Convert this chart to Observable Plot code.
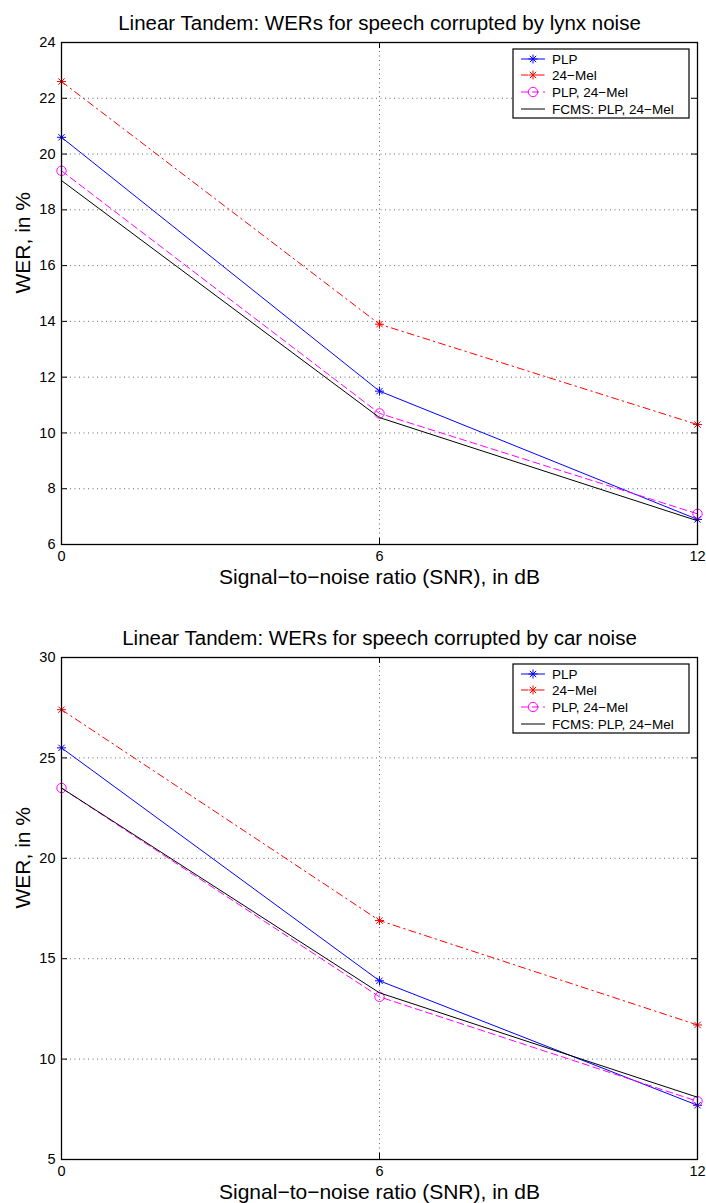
<!DOCTYPE html>
<html><head><meta charset="utf-8">
<script src="https://cdn.jsdelivr.net/npm/d3@7"></script>
<script src="https://cdn.jsdelivr.net/npm/@observablehq/plot@0.6"></script>
<style>
body{margin:0;background:#fff;}
#chart svg{display:block;}
</style></head><body><div id="chart"></div>
<script>
// ---- data ----
const snr = [0, 6, 12];
const seriesNames = ["PLP", "24\u2212Mel", "PLP, 24\u2212Mel", "FCMS: PLP, 24\u2212Mel"];
const lynxPLP = [20.6, 11.5, 6.9];
const lynxMel = [22.6, 13.9, 10.3];
const lynxPLPMel = [19.4, 10.7, 7.1];
const lynxFCMS = [19.05, 10.55, 6.85];
const carPLP = [25.5, 13.9, 7.7];
const carMel = [27.4, 16.9, 11.7];
const carPLPMel = [23.5, 13.1, 7.9];
const carFCMS = [23.5, 13.3, 8.1];
const xTicks = [0, 6, 12];
const lynxYTicks = [6, 8, 10, 12, 14, 16, 18, 20, 22, 24];
const carYTicks = [5, 10, 15, 20, 25, 30];
const lynxTitle = "Linear Tandem: WERs for speech corrupted by lynx noise";
const carTitle = "Linear Tandem: WERs for speech corrupted by car noise";
const xLabel = "Signal\u2212to\u2212noise ratio (SNR), in dB";
const yLabel = "WER, in %";

// ---- styles ----
const FONT = "'Liberation Sans', Arial, Helvetica, sans-serif";
const asterisk = {
  draw(ctx, size) {
    const r = Math.sqrt(size / Math.PI);
    const d = r * Math.SQRT1_2;
    ctx.moveTo(0, -r); ctx.lineTo(0, r);
    ctx.moveTo(-r, 0); ctx.lineTo(r, 0);
    ctx.moveTo(-d, -d); ctx.lineTo(d, d);
    ctx.moveTo(-d, d); ctx.lineTo(d, -d);
  }
};
const styles = [
  {color: "#0000ff", dash: null, symbol: asterisk, r: 4.5},
  {color: "#ff0000", dash: "7,4,1.5,4", symbol: asterisk, r: 4.5},
  {color: "#ff00ff", dash: "7,4", symbol: "circle", r: 4.7},
  {color: "#000000", dash: null, symbol: null, r: 0}
];

function legendMark(index, scales, values, dim) {
  const g = d3.create("svg:g").attr("font-family", FONT).attr("font-size", 13.5).attr("text-anchor", "start");
  const right = dim.width - dim.marginRight - 8;
  const top = dim.marginTop + 7;
  const w = 176, h = 69;
  const left = right - w;
  g.append("rect").attr("x", left).attr("y", top).attr("width", w).attr("height", h)
    .attr("fill", "#fff").attr("stroke", "#000").attr("stroke-width", 1.2);
  const rows = [10, 26, 43, 60];
  seriesNames.forEach((name, i) => {
    const st = styles[i];
    const y = top + rows[i];
    g.append("line").attr("x1", left + 8).attr("x2", left + 32).attr("y1", y).attr("y2", y)
      .attr("stroke", st.color).attr("stroke-width", 1)
      .attr("stroke-dasharray", st.dash);
    if (st.symbol) {
      const sym = st.symbol === "circle" ? d3.symbolCircle : st.symbol;
      g.append("path").attr("transform", `translate(${left + 20},${y})`)
        .attr("d", d3.symbol(sym, Math.PI * st.r * st.r)())
        .attr("fill", "none").attr("stroke", st.color).attr("stroke-width", 1);
    }
    g.append("text").attr("x", left + 39).attr("y", y).attr("dy", "0.35em")
      .attr("text-anchor", "start").attr("fill", "#000").text(name);
  });
  return g.node();
}

function chart({title, series, yDomain, yTicks, height, marginTop, marginBottom}) {
  const marginLeft = 61, marginRight = 9, width = 706;
  const fw = width - marginLeft - marginRight;
  const fh = height - marginTop - marginBottom;
  const marks = [
    Plot.ruleY(yTicks, {stroke: "#000", strokeOpacity: 0.6, strokeDasharray: "1,3.5"}),
    Plot.ruleX(xTicks, {stroke: "#000", strokeOpacity: 0.6, strokeDasharray: "1,3.5"}),
    // inward tick marks on all four sides
    Plot.tickY(yTicks, {y: d => d, insetRight: fw - 6, stroke: "#000"}),
    Plot.tickY(yTicks, {y: d => d, insetLeft: fw - 6, stroke: "#000"}),
    Plot.tickX(xTicks, {x: d => d, insetTop: fh - 6, stroke: "#000"}),
    Plot.tickX(xTicks, {x: d => d, insetBottom: fh - 6, stroke: "#000"})
  ];
  series.forEach((vals, i) => {
    const st = styles[i];
    const pts = snr.map((x, j) => ({x, y: vals[j]}));
    marks.push(Plot.line(pts, {x: "x", y: "y", stroke: st.color, strokeWidth: 1, strokeDasharray: st.dash}));
    if (st.symbol) marks.push(Plot.dot(pts, {x: "x", y: "y", symbol: st.symbol, r: st.r, stroke: st.color, fill: "none", strokeWidth: 1}));
  });
  marks.push(
    Plot.frame({stroke: "#000", strokeWidth: 1.3}),
    Plot.axisX(xTicks, {anchor: "bottom", tickSize: 0, tickPadding: 6, fontSize: 14.5, label: null, tickFormat: d => String(d)}),
    Plot.axisY(yTicks, {anchor: "left", tickSize: 0, tickPadding: 6, fontSize: 14.5, label: null, tickFormat: d => String(d)}),
    Plot.text([title], {frameAnchor: "top", dy: -19, lineAnchor: "middle", fontSize: 20.5, fill: "#000"}),
    Plot.text([xLabel], {frameAnchor: "bottom", dy: 33, lineAnchor: "middle", fontSize: 21, fill: "#000"}),
    Plot.text([yLabel], {frameAnchor: "left", dx: -38, rotate: -90, lineAnchor: "middle", fontSize: 21, fill: "#000"}),
    legendMark
  );
  return Plot.plot({
    width, height, marginTop, marginBottom, marginLeft, marginRight,
    style: {fontFamily: FONT, color: "#000", background: "#fff"},
    x: {domain: [0, 12], axis: null},
    y: {domain: yDomain, axis: null},
    marks
  });
}

const root = document.getElementById("chart");
root.append(chart({
  title: lynxTitle,
  series: [lynxPLP, lynxMel, lynxPLPMel, lynxFCMS],
  yDomain: [6, 24], yTicks: lynxYTicks,
  height: 601, marginTop: 42, marginBottom: 57
}));
root.append(chart({
  title: carTitle,
  series: [carPLP, carMel, carPLPMel, carFCMS],
  yDomain: [5, 30], yTicks: carYTicks,
  height: 602, marginTop: 56, marginBottom: 44
}));
</script></body></html>
